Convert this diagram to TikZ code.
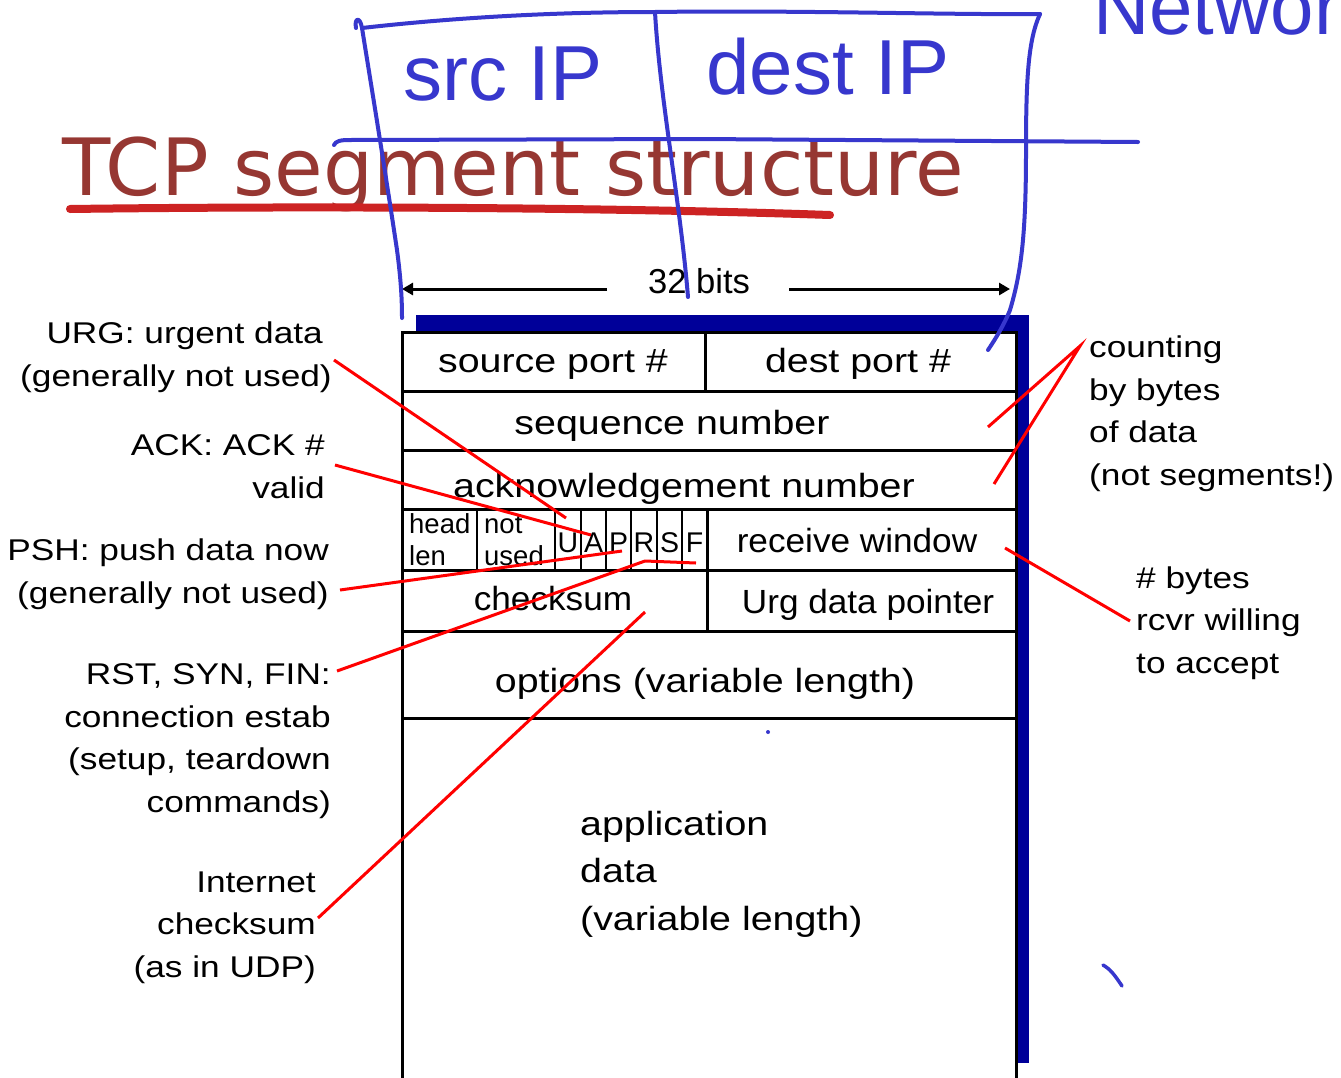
\documentclass[tikz,border=0pt]{standalone}
\usepackage{fontspec}
\setmainfont{Liberation Sans}
\newfontfamily\wideface[FakeStretch=1.175]{Liberation Sans}
\newfontfamily\midface[FakeStretch=1.05]{Liberation Sans}
\newfontfamily\titleface{DejaVu Sans}
\newfontfamily\penface{Liberation Sans}
\usetikzlibrary{arrows.meta}
\definecolor{titlered}{RGB}{150,55,50}
\definecolor{inkred}{RGB}{205,35,35}
\definecolor{pen}{RGB}{55,55,205}
\definecolor{shadowblue}{RGB}{0,0,153}

\begin{document}
\begin{tikzpicture}[x=1bp,y=-1bp,
  fieldtxt/.style={font=\wideface\fontsize{33.5bp}{40bp}\selectfont, anchor=base, inner sep=0pt},
  fieldnarrow/.style={font=\midface\fontsize{33.5bp}{40bp}\selectfont, anchor=base, inner sep=0pt},
  smalltxt/.style={font=\fontsize{27.5bp}{32bp}\selectfont, anchor=base west, inner sep=0pt},
  flagtxt/.style={font=\fontsize{28.5bp}{32bp}\selectfont, anchor=base, inner sep=0pt},
  lbl/.style={font=\wideface\fontsize{30bp}{42.4bp}\selectfont, inner sep=0pt},
  lbleft/.style={lbl, align=right, anchor=base east},
  lbright/.style={lbl, align=left, anchor=base west},
  pointer/.style={draw=red, line width=3bp},
  rule/.style={draw=black, line width=3bp},
  thinrule/.style={draw=black, line width=2.5bp},
  ink/.style={draw=pen, line width=4bp, line cap=round, line join=round},
  inktxt/.style={font=\penface\fontsize{78bp}{90bp}\selectfont, text=pen, inner sep=0pt},
]
\useasboundingbox (0,0) rectangle (1341,1077);
\clip (0,0) rectangle (1341,1077);
\fill[white] (0,0) rectangle (1341,1077);

% title
\node[font=\titleface\fontsize{79bp}{90bp}\selectfont, text=titlered, anchor=base west, inner sep=0pt] (title) at (62,195) {TCP segment structure};
\draw[inkred, line width=8bp, line cap=round] (70,209) .. controls (300,206) and (600,207) .. (830,215);

% segment frame with its shadow
\fill[shadowblue] (416,315) rectangle (1029,1063);
\fill[white] (402,332) rectangle (1016,1100);
\draw[rule] (402,1100) -- (402,332) -- (1016,332) -- (1016,1100);
\foreach \yy in {391,450,509,570,631,718}
  \draw[rule] (402,\yy) -- (1016,\yy);
\draw[rule] (705,332) -- (705,391);
\foreach \xx in {477,555,581,606,631,657,682}
  \draw[thinrule] (\xx,509) -- (\xx,570);
\draw[rule] (707,509) -- (707,631);

% header fields
\node[fieldtxt] (srcport) at (553,372) {source port \#};
\node[fieldtxt] (dstport) at (858,372) {dest port \#};
\node[fieldtxt] (seqnum) at (672,434) {sequence number};
\node[fieldtxt] (acknum) at (684,497) {acknowledgement number};
\node[smalltxt] (hlenA) at (409,533) {head};
\node[smalltxt] (hlenB) at (409,565) {len};
\node[smalltxt] (unusedA) at (484,533) {not};
\node[smalltxt] (unusedB) at (484,565) {used};
\node[flagtxt] (flagU) at (568,552) {U};
\node[flagtxt] (flagA) at (593.5,552) {A};
\node[flagtxt] (flagP) at (618.5,552) {P};
\node[flagtxt] (flagR) at (644,552) {R};
\node[flagtxt] (flagS) at (669.5,552) {S};
\node[flagtxt] (flagF) at (694.5,552) {F};
\node[fieldnarrow] (rwnd) at (857,552) {receive window};
\node[fieldnarrow] (cksum) at (553,610) {checksum};
\node[fieldnarrow] (urgptr) at (868,613) {Urg data pointer};
\node[fieldtxt] (opts) at (705,692) {options (variable length)};
\node[font=\wideface\fontsize{33.5bp}{47.5bp}\selectfont, align=left, anchor=base west, inner sep=0pt] (appdata) at (580,930) {application\\data\\(variable length)};

% width marker
\node[font=\fontsize{34.6bp}{40bp}\selectfont, anchor=base, inner sep=0pt] (wordsize) at (699,293) {32 bits};
\coordinate (wlA) at (607,289);
\coordinate (wlB) at (402,289);
\coordinate (wrA) at (789,289);
\coordinate (wrB) at (1010,289);
\draw[line width=3bp, -{Triangle[length=11bp,width=12bp]}] (wlA) -- (wlB);
\draw[line width=3bp, -{Triangle[length=11bp,width=12bp]}] (wrA) -- (wrB);

% notes on the left (anchored at the baseline of their last line)
\node[lbleft] (urg) at (332,386) {URG: urgent data\hspace*{9bp}\\(generally not used)};
\node[lbleft] (ack) at (325,498) {ACK: ACK \#\\valid};
\node[lbleft] (psh) at (329,603) {PSH: push data now\\(generally not used)};
\node[lbleft] (rst) at (331,812) {RST, SYN, FIN:\\connection estab\\(setup, teardown\\commands)};
\node[lbleft] (inet) at (316,977) {Internet\\checksum\\(as in UDP)};

% notes on the right
\node[lbright] (counting) at (1089,485) {counting\\by bytes\\of data\\(not segments!)};
\node[lbright] (rwndnote) at (1136,673) {\# bytes\\rcvr willing\\to accept};

% pointers
\coordinate (urgS) at (334,360);   \coordinate (urgE) at (566,518);
\coordinate (ackS) at (335,465);   \coordinate (ackE) at (591,535);
\coordinate (pshS) at (340,590);   \coordinate (pshE) at (622,551);
\coordinate (rstS) at (337,671);   \coordinate (rstM) at (645,561);  \coordinate (rstE) at (696,563);
\coordinate (inetS) at (318,918);  \coordinate (inetE) at (645,612);
\coordinate (cntS) at (1080,346);  \coordinate (cntE1) at (988,427); \coordinate (cntE2) at (994,484);
\coordinate (rwS) at (1005,548);   \coordinate (rwE) at (1130,621);
\draw[pointer] (urgS) -- (urgE);
\draw[pointer] (ackS) -- (ackE);
\draw[pointer] (pshS) -- (pshE);
\draw[pointer] (rstS) -- (rstM) -- (rstE);
\draw[pointer] (inetS) -- (inetE);
\draw[pointer] (cntE1) -- (cntS) -- (cntE2);
\draw[pointer] (rwS) -- (rwE);

% pen annotations: the network-layer header on top
\draw[ink] (356,28) .. controls (354,18) and (360,16) .. (362,28);
\draw[ink] (362,28) .. controls (450,18) and (550,12) .. (655,12) .. controls (800,10) and (950,15) .. (1040,14);
\draw[ink] (362,28) .. controls (372,90) and (385,170) .. (397,250) .. controls (401,280) and (402,300) .. (402,318);
\draw[ink] (655,12) .. controls (660,100) and (680,200) .. (688,297);
\draw[ink] (1040,14) .. controls (1028,40) and (1026,80) .. (1026,150) .. controls (1026,230) and (1022,270) .. (1010,310) .. controls (1004,325) and (996,338) .. (988,350);
\draw[ink] (334,145) .. controls (336,141) and (340,140) .. (350,140) -- (700,139) -- (1138,142);
\node[inktxt, anchor=base] (srcip) at (503,100) {src IP};
\node[inktxt, anchor=base] (dstip) at (828,94) {dest IP};
\node[inktxt, anchor=base west] (netw) at (1093,34) {Network};
\fill[pen] (768,732) circle (2bp);
\draw[ink, line width=3.5bp] (1103,965) .. controls (1110,969) and (1114,974) .. (1122,986);
\end{tikzpicture}
\end{document}
